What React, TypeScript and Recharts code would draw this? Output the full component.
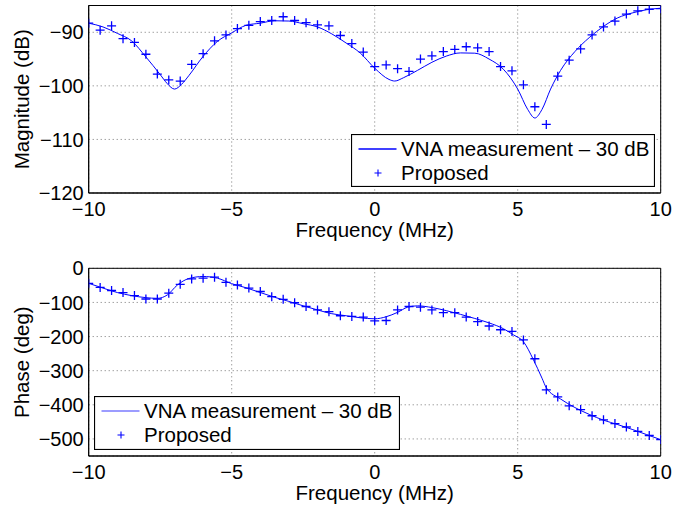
import React from 'react'
import { LineChart, Line, XAxis, YAxis, CartesianGrid, Legend } from 'recharts'

const FONT = '"Liberation Sans", Arial, Helvetica, sans-serif'
const BLUE = '#0000ff'

// "Proposed" marker frequencies (MHz)
const markerFreq = [
  -10, -9.6, -9.2, -8.8, -8.4, -8, -7.6, -7.2, -6.8, -6.4, -6, -5.6, -5.2, -4.8, -4.4, -4, -3.6,
  -3.2, -2.8, -2.4, -2, -1.6, -1.2, -0.8, -0.4, 0, 0.4, 0.8, 1.2, 1.6, 2, 2.4, 2.8, 3.2, 3.6, 4,
  4.4, 4.8, 5.2, 5.6, 6, 6.4, 6.8, 7.2, 7.6, 8, 8.4, 8.8, 9.2, 9.6, 10,
]
const magProposed = [
  -88.3, -89.6, -88.8, -91.2, -91.9, -94.1, -97.8, -98.9, -99.1, -96.0, -94.0, -91.6, -90.5, -89.3,
  -88.7, -88.0, -87.8, -87.1, -87.8, -88.2, -88.6, -88.8, -90.6, -92.1, -93.7, -96.4, -96.1, -96.8,
  -97.3, -95.0, -94.4, -93.6, -93.2, -92.7, -92.9, -93.6, -96.4, -97.2, -99.8, -103.9, -107.2, -98.2,
  -95.2, -93.1, -90.5, -89.0, -87.9, -86.6, -86.0, -85.7, -85.6,
]
const phaseProposed = [
  -44, -56, -65, -71, -80, -90, -90, -73, -47, -31, -29, -26, -41, -49, -58, -68, -83, -91, -101,
  -112, -122, -127, -139, -141, -143, -154, -153, -122, -112, -114, -122, -130, -130, -143, -156,
  -169, -180, -185, -210, -265, -356, -377, -403, -414, -432, -444, -455, -465, -478, -490, -502,
]

// VNA measurement traces
const vnaMagFreq = [
  -10, -9.5, -9, -8.5, -8, -7.5, -7.25, -7, -6.75, -6.5, -6, -5.5, -5, -4.5, -4, -3.5, -3, -2.5, -2,
  -1.5, -1, -0.5, 0, 0.5, 0.7, 1, 1.5, 2, 2.5, 3, 3.5, 4, 4.5, 5, 5.35, 5.6, 5.85, 6.15, 6.5, 7,
  7.5, 8, 8.5, 9, 9.5, 10,
]
const vnaMag = [
  -88.3, -89.0, -90.2, -91.6, -94.6, -97.9, -99.6, -100.6, -99.7, -98.1, -94.5, -91.7, -90.1, -88.7,
  -88.3, -87.85, -87.9, -88.4, -89.0, -90.3, -92.0, -93.9, -96.7, -98.8, -99.1, -98.5, -97.1, -95.6,
  -94.45, -93.85, -93.9, -95.0, -96.9, -100.6, -104.4, -106.0, -104.4, -100.6, -97.1, -93.6, -91.0,
  -88.9, -87.3, -86.4, -85.8, -85.5,
]
const vnaPhaseFreq = [
  -10, -9.5, -9, -8.5, -8, -7.6, -7.25, -6.9, -6.5, -6, -5.5, -5, -4.5, -4, -3.5, -3, -2.5, -2,
  -1.5, -1, -0.5, 0, 0.4, 0.8, 1.15, 1.5, 2, 2.5, 3, 3.5, 4, 4.5, 4.85, 5.2, 5.55, 5.85, 6, 6.5, 7,
  7.5, 8, 8.5, 9, 9.5, 10,
]
const vnaPhase = [
  -44, -58, -71, -80, -86, -88, -78, -49, -30, -24, -29, -45, -57, -71, -85, -97, -110, -122, -133,
  -139, -145, -148, -142, -129, -114, -110, -115, -124, -135, -147, -160, -177, -195, -215, -268,
  -322, -350, -383, -408, -428, -445, -458, -472, -487, -502,
]

const freqTicks = [-10, -5, 0, 5, 10]
const magTicks = [-120, -110, -100, -90]
const phaseTicks = [-500, -400, -300, -200, -100, 0]
const legendLabels = ['VNA measurement \u2013 30 dB', 'Proposed']

const toRows = (xs: number[], ys: number[]) => xs.map((x, i) => ({ x, y: ys[i] }))
const fmt = (v: number) => String(v).replace('-', '\u2212')

const PlusDot = (props: any) => {
  const { cx, cy, index } = props
  if (cx == null || cy == null) return <g key={`p-${index}`} />
  const r = 4.5
  return (
    <path
      key={`p-${index}`}
      d={`M${cx - r},${cy}H${cx + r}M${cx},${cy - r}V${cy + r}`}
      stroke={BLUE}
      strokeWidth={1.3}
      fill="none"
    />
  )
}

const YTitle = (props: any) => {
  const vb = props.viewBox || { x: 8.7, y: 0, width: 80, height: 200 }
  const x0 = vb.x + 20
  const cy = vb.y + vb.height / 2
  return (
    <text
      x={x0}
      y={cy}
      transform={`rotate(-90, ${x0}, ${cy})`}
      textAnchor="middle"
      fontSize={20.5}
      fontFamily={FONT}
      fill="#000"
    >
      {props.value}
    </text>
  )
}

const makeLegend = (w: number, h: number, lineColor: string) => () => (
  <svg width={w} height={h} style={{ display: 'block' }}>
    <rect x={0.5} y={0.5} width={w - 1} height={h - 1} fill="#fff" stroke="#000" strokeWidth={1.2} />
    <line x1={7.5} x2={45.5} y1={15} y2={15} stroke={lineColor} strokeWidth={1.3} />
    <text x={50} y={15} dy="0.36em" fontSize={20.5} fontFamily={FONT} fill="#000">
      {legendLabels[0]}
    </text>
    <path d={`M23.5,39H30.5M27,35.5V42.5`} stroke={BLUE} strokeWidth={1.1} fill="none" />
    <text x={50} y={39} dy="0.36em" fontSize={20.5} fontFamily={FONT} fill="#000">
      {legendLabels[1]}
    </text>
  </svg>
)

type SubplotProps = {
  height: number
  marginTop: number
  marginBottom: number
  yDomain: [number, number]
  yTicks: number[]
  yTitle: string
  lineRows: { x: number; y: number }[]
  plusRows: { x: number; y: number }[]
  legendBox: { left: number; top: number; width: number; height: number }
  legendLine: string
}

function Subplot(p: SubplotProps) {
  const tickStyle = { fontSize: 20, fill: '#000', fontFamily: FONT }
  const axisLine = { stroke: '#000', strokeWidth: 1 }
  const tickLine = { stroke: '#000', strokeWidth: 1 }
  return (
    <LineChart
      width={694}
      height={p.height}
      margin={{ top: p.marginTop, right: 33.3, bottom: p.marginBottom, left: 8.7 }}
    >
      <CartesianGrid stroke="#777" strokeDasharray="1 3" />
      <XAxis
        dataKey="x"
        type="number"
        domain={[-10, 10]}
        ticks={freqTicks}
        interval={0}
        allowDataOverflow
        height={44}
        tickLine={false}
        tickSize={0}
        tickMargin={9}
        axisLine={axisLine}
        tick={tickStyle}
        tickFormatter={fmt}
        label={{ value: 'Frequency (MHz)', position: 'insideBottom', offset: 0, fontSize: 20.5, fill: '#000', fontFamily: FONT }}
      />
      <XAxis xAxisId="bottomIn" dataKey="x" type="number" domain={[-10, 10]} ticks={freqTicks} interval={0}
        allowDataOverflow orientation="bottom" mirror tick={false} tickSize={5} tickLine={tickLine} axisLine={axisLine} />
      <XAxis xAxisId="top" dataKey="x" type="number" domain={[-10, 10]} ticks={freqTicks} interval={0}
        allowDataOverflow orientation="top" mirror tick={false} tickSize={5} tickLine={tickLine} axisLine={axisLine} />
      <YAxis
        type="number"
        domain={p.yDomain}
        ticks={p.yTicks}
        interval={0}
        allowDataOverflow
        width={80}
        tickLine={false}
        tickSize={0}
        tickMargin={5}
        axisLine={axisLine}
        tick={tickStyle}
        tickFormatter={fmt}
        label={{ value: p.yTitle, content: YTitle }}
      />
      <YAxis yAxisId="leftIn" type="number" domain={p.yDomain} ticks={p.yTicks} interval={0} allowDataOverflow
        orientation="left" mirror tick={false} tickSize={5} tickLine={tickLine} axisLine={axisLine} />
      <YAxis yAxisId="right" type="number" domain={p.yDomain} ticks={p.yTicks} interval={0} allowDataOverflow
        orientation="right" mirror tick={false} tickSize={5} tickLine={tickLine} axisLine={axisLine} />
      <Line
        data={p.lineRows}
        dataKey="y"
        type="monotone"
        stroke={BLUE}
        strokeWidth={1}
        dot={false}
        activeDot={false}
        isAnimationActive={false}
      />
      <Line
        data={p.plusRows}
        dataKey="y"
        stroke="none"
        dot={PlusDot}
        activeDot={false}
        legendType="none"
        isAnimationActive={false}
      />
      <Legend
        layout="vertical"
        align="center"
        verticalAlign="middle"
        wrapperStyle={{ ...p.legendBox, margin: 0, padding: 0 }}
        content={makeLegend(p.legendBox.width, p.legendBox.height, p.legendLine)}
      />
    </LineChart>
  )
}

export default function App() {
  return (
    <div style={{ position: 'absolute', left: 0, top: 0, width: 694, height: 506, background: '#fff', fontFamily: FONT }}>
      <div style={{ position: 'absolute', left: 0, top: 0 }}>
        <Subplot
          height={250}
          marginTop={5.5}
          marginBottom={13}
          yDomain={[-120, -85]}
          yTicks={magTicks}
          yTitle="Magnitude (dB)"
          lineRows={toRows(vnaMagFreq, vnaMag)}
          plusRows={toRows(markerFreq, magProposed)}
          legendBox={{ left: 350.7, top: 134, width: 304, height: 53 }}
          legendLine={BLUE}
        />
      </div>
      <div style={{ position: 'absolute', left: 0, top: 250 }}>
        <Subplot
          height={256}
          marginTop={18.3}
          marginBottom={6}
          yDomain={[-550, 0]}
          yTicks={phaseTicks}
          yTitle="Phase (deg)"
          lineRows={toRows(vnaPhaseFreq, vnaPhase)}
          plusRows={toRows(markerFreq, phaseProposed)}
          legendBox={{ left: 94.3, top: 146, width: 306, height: 54 }}
          legendLine="#7b7bff"
        />
      </div>
    </div>
  )
}
